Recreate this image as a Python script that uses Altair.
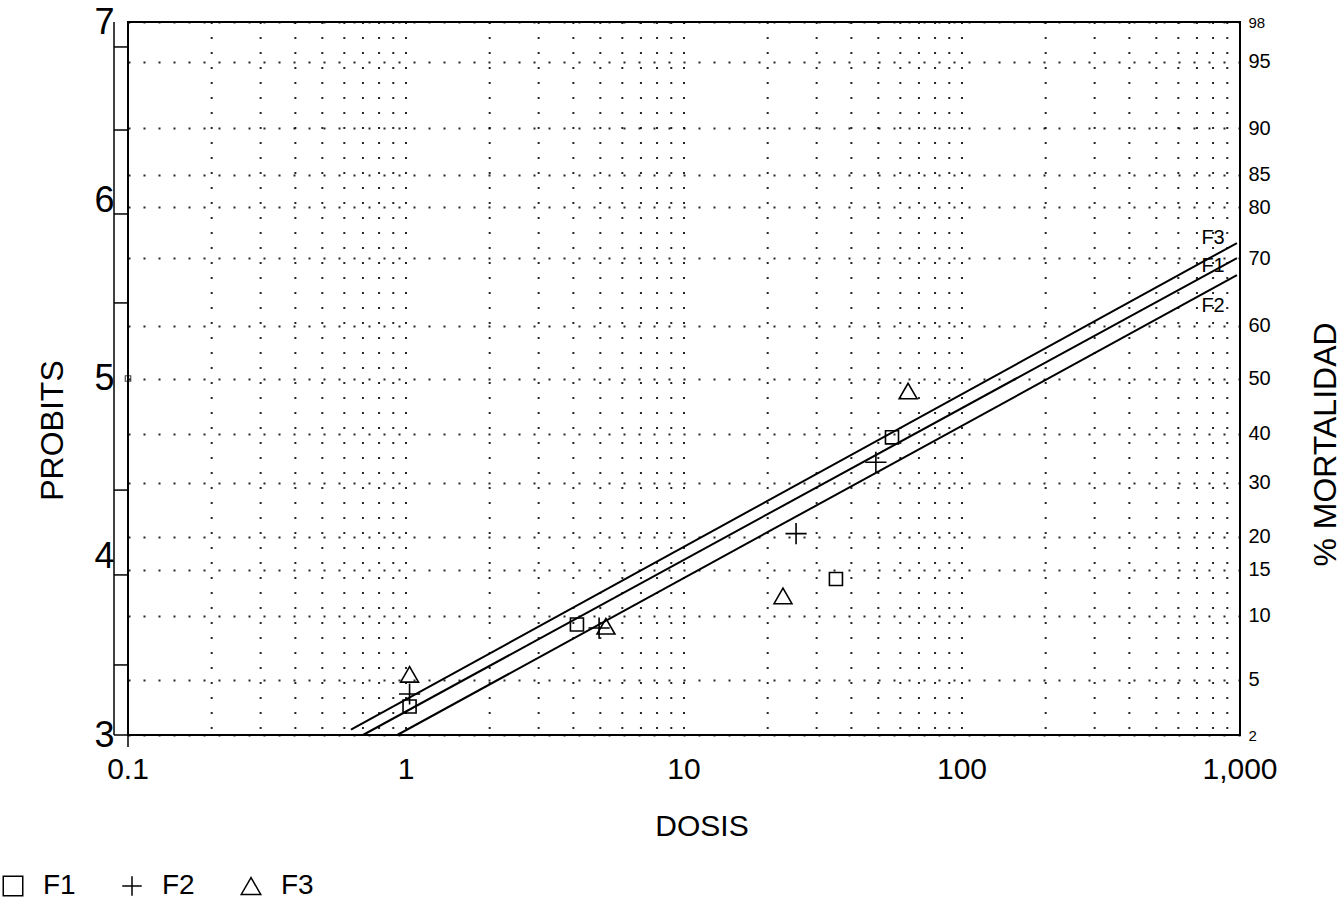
import altair as alt
import pandas as pd

# ---------------- data ----------------
series_names = ["F1", "F2", "F3"]

f1_dose = [1.03, 4.12, 35.2, 56.0]
f1_probit = [3.16, 3.62, 3.875, 4.67]
f2_dose = [1.03, 4.95, 25.3, 49.0]
f2_probit = [3.23, 3.60, 4.13, 4.53]
f3_dose = [1.03, 5.24, 22.7, 64.0]
f3_probit = [3.34, 3.61, 3.78, 4.93]

# fitted probit lines (start / end points)
line_dose_start = [0.70, 0.93, 0.634]
line_probit_start = [3.0, 3.0, 3.03]
line_dose_end = [975, 975, 975]
line_probit_end = [5.676, 5.58, 5.76]
line_label_dose = [800, 800, 800]
line_label_probit = [5.631, 5.407, 5.788]

control_dose = [0.1]
control_probit = [5.0]

x_grid_values = [0.2, 0.3, 0.4, 0.5, 0.6, 0.7, 0.8, 0.9,
                 1, 2, 3, 4, 5, 6, 7, 8, 9,
                 10, 20, 30, 40, 50, 60, 70, 80, 90,
                 100, 200, 300, 400, 500, 600, 700, 800, 900]
x_tick_values = [0.1, 1, 10, 100, 1000]
x_tick_labels = ["0.1", "1", "10", "100", "1,000"]
x_title = "DOSIS"

probit_ticks = [3, 4, 5, 6, 7]
left_minor_ticks = [6.86, 6.394, 5.923, 5.424, 4.374, 3.898, 3.393, 3.0]

pct_labels = ["98", "95", "90", "85", "80", "70", "60", "50", "40", "30", "20", "15", "10", "5", "2"]
pct_probit = [7.0, 6.776, 6.405, 6.142, 5.962, 5.676, 5.295, 5.0, 4.689, 4.414, 4.111, 3.926, 3.668, 3.309, 3.0]

# ---------------- tables ----------------
pts = pd.DataFrame({
    "serie": ["F1"] * len(f1_dose) + ["F2"] * len(f2_dose) + ["F3"] * len(f3_dose),
    "dose": f1_dose + f2_dose + f3_dose,
    "probit": f1_probit + f2_probit + f3_probit,
})
lines = pd.DataFrame({
    "serie": series_names,
    "x": line_dose_start, "x2": line_dose_end,
    "y": line_probit_start, "y2": line_probit_end,
    "lx": line_label_dose, "ly": line_label_probit,
})
ctrl = pd.DataFrame({"dose": control_dose, "probit": control_probit})
minor = pd.DataFrame({"p": left_minor_ticks})
pct = pd.DataFrame({"p": pct_probit, "lab": pct_labels})
xgrid = pd.DataFrame({"d": x_grid_values})
xlab = pd.DataFrame({"d": x_tick_values, "lab": x_tick_labels})
one = pd.DataFrame({"t": [x_title]})

FONT = "Liberation Sans"
W, H = 1112, 713

xs = alt.Scale(type="log", domain=[0.1, 1000], nice=False)
ys = alt.Scale(domain=[3, 7], nice=False, zero=False)

pct_expr = " : ".join(f"abs(datum.value - {v}) < 0.0001 ? '{l}'" for v, l in zip(pct_probit, pct_labels)) + " : ''"

y_axis = alt.Axis(
    values=probit_ticks, format="d", grid=False, domain=False, ticks=False,
    labelFont=FONT, labelFontSize=36, labelColor="black", labelPadding=14,
    title="PROBITS", titleFont=FONT, titleFontSize=32, titleFontWeight="normal",
    titleColor="black", titleX=-76, titleY=408, titleAngle=270,
    titleBaseline="middle", titleAlign="center",
)
y_right = alt.Axis(
    orient="right", values=pct_probit, labelExpr=pct_expr, labelOverlap=False,
    grid=True, gridColor="black", gridDash=[2, 13], gridWidth=2, gridOpacity=0.85,
    domain=False, ticks=False, labelPadding=8, labelFont=FONT, labelColor="black",
    labelFontSize={"condition": {"test": "datum.value > 6.99 || datum.value < 3.01", "value": 15}, "value": 20},
    labelAlign="left",
    title="% MORTALIDAD", titleFont=FONT, titleFontSize=32, titleFontWeight="normal",
    titleColor="black", titleX=85, titleY=422, titleAngle=270,
    titleBaseline="middle", titleAlign="center",
)

# vertical dotted grid on the log dose scale
v_grid = alt.Chart(xgrid).mark_rule(color="black", strokeDash=[2, 13], strokeWidth=2, opacity=0.85).encode(
    x=alt.X("d:Q", scale=xs, axis=None), y=alt.value(0), y2=alt.value(H)
)

# dose tick labels and title
x_labels = alt.Chart(xlab).mark_text(font=FONT, fontSize=30, color="black", align="center", baseline="alphabetic").encode(
    x=alt.X("d:Q", scale=xs, axis=None), y=alt.value(H + 44), text="lab:N"
)
x_title_mark = alt.Chart(one).mark_text(font=FONT, fontSize=30, color="black", align="center", baseline="alphabetic").encode(
    x=alt.value(574), y=alt.value(H + 101), text="t:N"
)

right_layer = alt.Chart(pct).mark_point(opacity=0).encode(
    x=alt.value(W), y=alt.Y("p:Q", scale=ys, axis=y_right)
)

fit_lines = alt.Chart(lines).mark_rule(color="black", strokeWidth=2).encode(
    x=alt.X("x:Q", scale=xs, axis=None), x2="x2:Q",
    y=alt.Y("y:Q", scale=ys, axis=None), y2="y2:Q",
)

line_labels = alt.Chart(lines).mark_text(font=FONT, fontSize=20, color="black", align="center", baseline="middle").encode(
    x=alt.X("lx:Q", scale=xs, axis=None), y=alt.Y("ly:Q", scale=ys, axis=None), text="serie:N"
)

shape_scale = alt.Scale(domain=series_names, range=["square", "M-1,0L1,0M0,-1L0,1", "triangle-up"])
legend = alt.Legend(orient="none", legendX=-129, legendY=850, direction="horizontal",
                    title=None, labelFont=FONT, labelFontSize=28, labelColor="black",
                    symbolSize=380, symbolStrokeWidth=1.5, symbolStrokeColor="black",
                    labelOffset=16, columnPadding=42)

point_sizes = {"F1": 170, "F2": 450, "F3": 320}
point_layers = []
for i, s in enumerate(series_names):
    point_layers.append(
        alt.Chart(pts).transform_filter(alt.datum.serie == s)
        .mark_point(filled=False, color="black", strokeWidth=1.6, opacity=1, size=point_sizes[s])
        .encode(
            x=alt.X("dose:Q", scale=xs, axis=None),
            y=alt.Y("probit:Q", scale=ys, axis=y_axis if i == 0 else None),
            shape=alt.Shape("serie:N", scale=shape_scale, legend=legend),
        )
    )

ctrl_pt = alt.Chart(ctrl).mark_point(shape="square", filled=False, color="black", strokeWidth=1.2, size=30).encode(
    x=alt.X("dose:Q", scale=xs, axis=None), y=alt.Y("probit:Q", scale=ys, axis=None)
)

left_ticks = alt.Chart(minor).mark_rule(color="black", strokeWidth=1.5).encode(
    x=alt.value(-14), x2=alt.value(0), y=alt.Y("p:Q", scale=ys, axis=None)
)

outer_line = alt.Chart(one).mark_rule(color="black", strokeWidth=1.5).encode(
    x=alt.value(-14), y=alt.value(0), y2=alt.value(H)
)

corner_tick = alt.Chart(one).mark_rule(color="black", strokeWidth=1.5).encode(
    x=alt.value(0), y=alt.value(H - 6), y2=alt.value(H + 12)
)

chart = alt.layer(
    v_grid, right_layer, *point_layers, fit_lines, line_labels, ctrl_pt,
    left_ticks, outer_line, corner_tick, x_labels, x_title_mark
).resolve_scale(y="independent").properties(
    width=W, height=H,
    padding={"left": 128, "top": 22, "right": 102, "bottom": 166},
    autosize=alt.AutoSizeParams(type="none"),
    background="white",
).configure_view(stroke="black", strokeWidth=2)

chart.save("out.html", embed_options={"renderer": "svg", "actions": False})
